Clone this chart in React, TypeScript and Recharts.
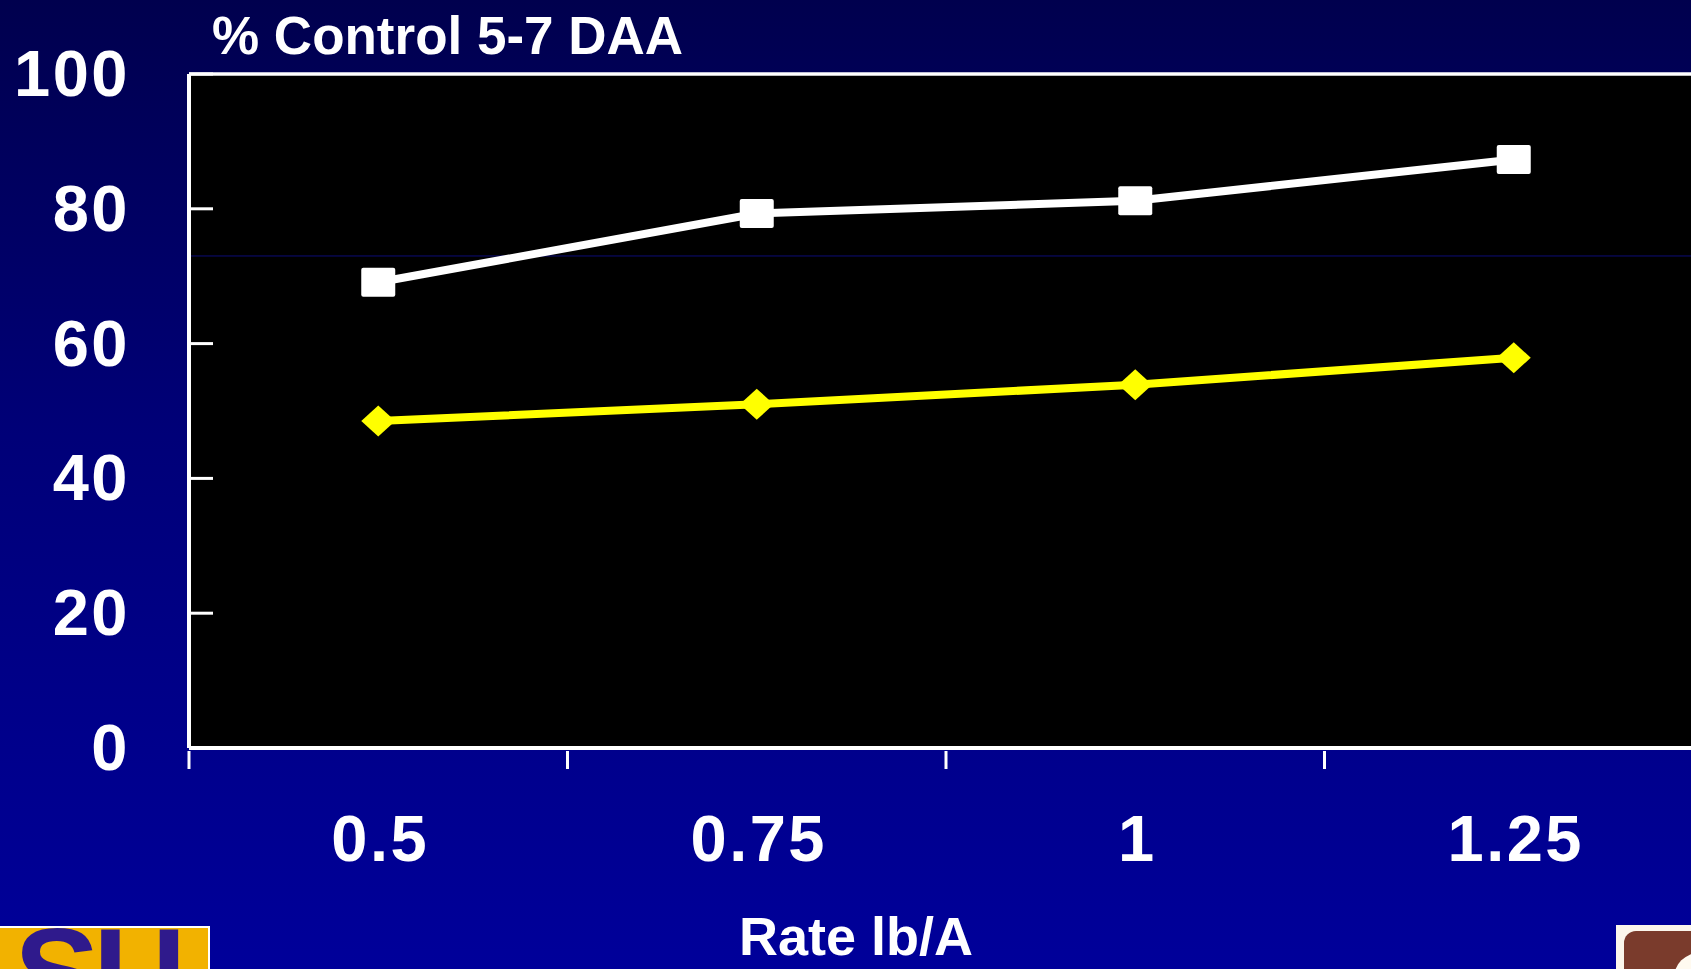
import React from 'react';
import { LineChart, Line, XAxis, YAxis, CartesianGrid, ReferenceLine } from 'recharts';

// rate (lb/A) on the x axis, % control 5-7 days after application on the y axis
const rates = ['0.5', '0.75', '1', '1.25'];
const whiteSeries = [69.1, 79.3, 81.2, 87.3];
const yellowSeries = [48.5, 51.0, 53.9, 57.9];
const yTicks = [0, 20, 40, 60, 80, 100];

const CHART_W = 1720;
const CHART_H = 969;
const Y_AXIS_W = 189;
const RIGHT = 17;
const TOP = 74;
const X_AXIS_H = 221;
const BAND = (CHART_W - Y_AXIS_W - RIGHT) / rates.length;

const FONT = '"Liberation Sans", Arial, Helvetica, sans-serif';

const data = rates.map((rate, i) => ({ rate, upper: whiteSeries[i], lower: yellowSeries[i] }));

const YTick = (props: any) => {
  const { x, y, payload } = props;
  return (
    <g>
      <line x1={x} x2={x + 24} y1={y} y2={y} stroke="#fff" strokeWidth={3} />
      <text x={x - 59} y={y} dy={22} textAnchor="end" fill="#fff" fontFamily={FONT}
        fontWeight="bold" fontSize={65} letterSpacing={2.5}>
        {payload.value}
      </text>
    </g>
  );
};

const XTick = (props: any) => {
  const { x, y, payload, index } = props;
  return (
    <g>
      <line x1={x - BAND / 2} x2={x - BAND / 2} y1={y + 3} y2={y + 21} stroke="#fff" strokeWidth={3} />
      {index === rates.length - 1 && (
        <line x1={x + BAND / 2} x2={x + BAND / 2} y1={y + 3} y2={y + 21} stroke="#fff" strokeWidth={3} />
      )}
      <text x={x + 2} y={y} dy={113} textAnchor="middle" fill="#fff" fontFamily={FONT}
        fontWeight="bold" fontSize={65} letterSpacing={2.5}>
        {payload.value}
      </text>
    </g>
  );
};

const SquareDot = (props: any) => {
  const { cx, cy, index } = props;
  return <rect key={`sq-${index}`} x={cx - 17} y={cy - 14.5} width={34} height={29} rx={2} fill="#fff" />;
};

const DiamondDot = (props: any) => {
  const { cx, cy, index } = props;
  const pts = `${cx - 17},${cy} ${cx},${cy - 15.5} ${cx + 17},${cy} ${cx},${cy + 15.5}`;
  return <polygon key={`di-${index}`} points={pts} fill="#ffff00" />;
};

export default function App() {
  return (
    <div
      style={{
        position: 'fixed',
        left: 0,
        top: 0,
        width: 1691,
        height: 969,
        overflow: 'hidden',
        background: 'linear-gradient(to bottom, #00004e 0%, #000078 45%, #00009a 100%)',
        fontFamily: FONT,
      }}
    >
      {/* series lines are thick in the slide; force the width on the curve paths */}
      <style>{`.thick-line path.recharts-line-curve, .thick-line .recharts-curve { stroke-width: 8px !important; }`}</style>

      <div
        style={{
          position: 'absolute',
          left: 212,
          top: 9,
          fontSize: 53,
          lineHeight: '53px',
          fontWeight: 'bold',
          color: '#fff',
          whiteSpace: 'nowrap',
        }}
      >
        % Control 5-7 DAA
      </div>

      <div className="thick-line" style={{ position: 'absolute', left: 0, top: 0 }}>
        <LineChart
          width={CHART_W}
          height={CHART_H}
          data={data}
          margin={{ top: TOP, right: RIGHT, bottom: 0, left: 0 }}
        >
          <CartesianGrid horizontal={false} vertical={false} fill="#000" stroke="none" />
          <ReferenceLine y={73} stroke="#0c0c78" strokeWidth={1} />
          <ReferenceLine y={100} stroke="#fff" strokeWidth={3.5} />
          <XAxis
            dataKey="rate"
            scale="band"
            interval={0}
            height={X_AXIS_H}
            axisLine={{ stroke: '#fff', strokeWidth: 4 }}
            tickLine={false}
            tickSize={0}
            tickMargin={0}
            tick={<XTick />}
          />
          <YAxis
            type="number"
            domain={[0, 100]}
            ticks={yTicks}
            width={Y_AXIS_W}
            axisLine={{ stroke: '#fff', strokeWidth: 4 }}
            tickLine={false}
            tickSize={0}
            tickMargin={0}
            tick={<YTick />}
          />
          <Line
            type="linear"
            dataKey="upper"
            stroke="#fff"
            strokeWidth={8}
            dot={SquareDot}
            activeDot={false}
            isAnimationActive={false}
          />
          <Line
            type="linear"
            dataKey="lower"
            stroke="#ffff00"
            strokeWidth={8}
            dot={DiamondDot}
            activeDot={false}
            isAnimationActive={false}
          />
        </LineChart>
      </div>

      <div
        style={{
          position: 'absolute',
          left: 739,
          top: 916,
          fontSize: 54,
          lineHeight: '40px',
          fontWeight: 'bold',
          color: '#fff',
          whiteSpace: 'nowrap',
        }}
      >
        Rate lb/A
      </div>

      {/* corner logos */}
      <div
        style={{
          position: 'absolute',
          left: -2,
          top: 926,
          width: 210,
          height: 60,
          background: '#f2b200',
          borderTop: '2px solid #fff',
          borderRight: '2px solid #fff',
          overflow: 'hidden',
        }}
      >
        <div
          style={{
            position: 'absolute',
            left: -56,
            top: -18,
            fontSize: 128,
            lineHeight: '128px',
            fontWeight: 'bold',
            color: '#2f1a8c',
            letterSpacing: -6,
            whiteSpace: 'nowrap',
          }}
        >
          LSU
        </div>
      </div>
      <div
        style={{
          position: 'absolute',
          left: 1616,
          top: 925,
          width: 90,
          height: 60,
          background: '#fbf6ec',
          overflow: 'hidden',
        }}
      >
        <div
          style={{
            position: 'absolute',
            left: 8,
            top: 6,
            width: 90,
            height: 60,
            borderRadius: 12,
            background: '#7a3b2c',
          }}
        />
        <div
          style={{
            position: 'absolute',
            left: 58,
            top: 28,
            width: 50,
            height: 50,
            borderRadius: 25,
            background: '#fffaf0',
          }}
        />
      </div>
    </div>
  );
}
